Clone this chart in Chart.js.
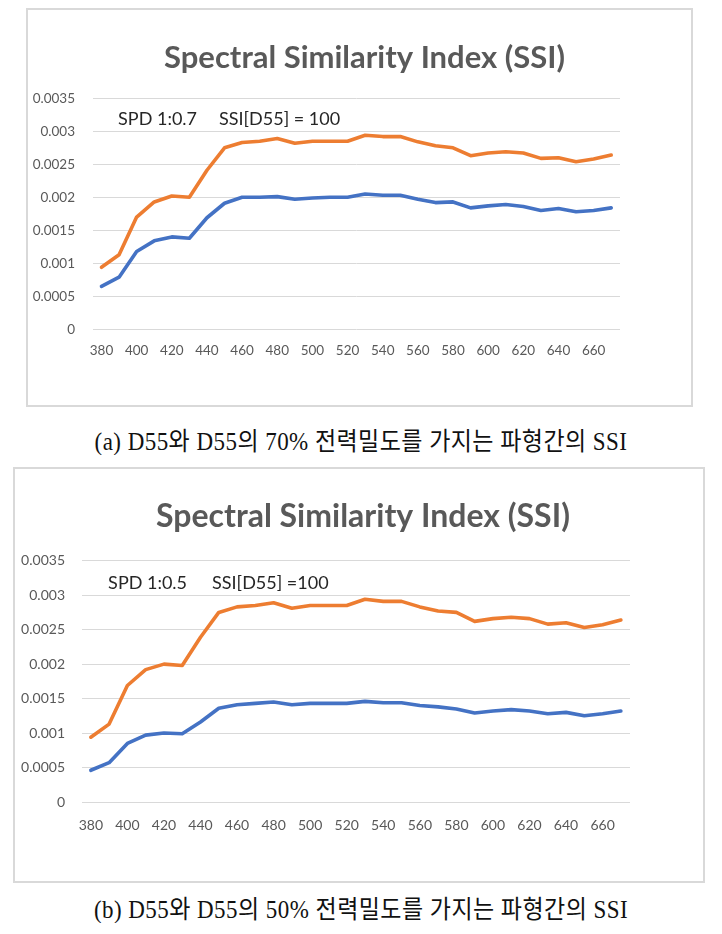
<!DOCTYPE html>
<html>
<head>
<meta charset="utf-8">
<script src="https://cdn.jsdelivr.net/npm/chart.js@4.4.1/dist/chart.umd.min.js"></script>
<style>
  html, body { margin: 0; padding: 0; background: #ffffff; }
  body { width: 722px; height: 934px; position: relative; overflow: hidden; }
  .box { position: absolute; border: 2px solid #d9d9d9; box-sizing: border-box; background: #fff; }
  .cv { position: absolute; }
  .caption { position: absolute; left: 0; width: 722px; text-align: center;
             font-family: "Liberation Serif", "Noto Sans CJK KR", serif; font-size: 23px; color: #111;
             letter-spacing: 0.45px; line-height: 26px; white-space: pre; transform: scaleY(1.08); }
</style>
</head>
<body>
<div class="box" style="left:26px; top:8px; width:667px; height:399px;"></div>
<div class="cv" style="left:28px; top:10px; width:663px; height:395px;"><canvas id="chartA"></canvas></div>
<div class="caption" id="capA" style="top:429px;">(a) D55와 D55의 70% 전력밀도를 가지는 파형간의 SSI</div>

<div class="box" style="left:13px; top:467px; width:692px; height:416px;"></div>
<div class="cv" style="left:15px; top:469px; width:688px; height:412px;"><canvas id="chartB"></canvas></div>
<div class="caption" id="capB" style="top:897px;">(b) D55와 D55의 50% 전력밀도를 가지는 파형간의 SSI</div>

<script>
// ---- data ----
const categories = [380, 390, 400, 410, 420, 430, 440, 450, 460, 470, 480, 490, 500, 510, 520,
                    530, 540, 550, 560, 570, 580, 590, 600, 610, 620, 630, 640, 650, 660, 670];

const blueA = [0.00065, 0.00079, 0.00118, 0.00134, 0.00140, 0.00138, 0.00169, 0.00191, 0.00200, 0.00200,
               0.00201, 0.00197, 0.00199, 0.00200, 0.00200, 0.00205, 0.00203, 0.00203, 0.00197, 0.00192,
               0.00193, 0.00184, 0.00187, 0.00189, 0.00186, 0.00180, 0.00183, 0.00178, 0.00180, 0.00184];
const orangeA = [0.00094, 0.00113, 0.00170, 0.00193, 0.00202, 0.00200, 0.00241, 0.00275, 0.00283, 0.00285,
                 0.00289, 0.00282, 0.00285, 0.00285, 0.00285, 0.00294, 0.00292, 0.00292, 0.00284, 0.00278,
                 0.00275, 0.00263, 0.00267, 0.00269, 0.00267, 0.00259, 0.00260, 0.00254, 0.00258, 0.00264];

const blueB = [0.00046, 0.00057, 0.00085, 0.00097, 0.00100, 0.00099, 0.00116, 0.00136, 0.00141, 0.00143,
               0.00145, 0.00141, 0.00143, 0.00143, 0.00143, 0.00146, 0.00144, 0.00144, 0.00140, 0.00138,
               0.00135, 0.00129, 0.00132, 0.00134, 0.00132, 0.00128, 0.00130, 0.00125, 0.00128, 0.00132];
const orangeB = [0.00094, 0.00113, 0.00169, 0.00192, 0.00200, 0.00198, 0.00239, 0.00275, 0.00283, 0.00285,
                 0.00289, 0.00281, 0.00285, 0.00285, 0.00285, 0.00294, 0.00291, 0.00291, 0.00283, 0.00277,
                 0.00275, 0.00262, 0.00266, 0.00268, 0.00266, 0.00258, 0.00260, 0.00253, 0.00257, 0.00264];

const yTickValues = [0, 0.0005, 0.001, 0.0015, 0.002, 0.0025, 0.003, 0.0035];
const yTickLabels = ['0', '0.0005', '0.001', '0.0015', '0.002', '0.0025', '0.003', '0.0035'];
const xTickLabels = ['380', '', '400', '', '420', '', '440', '', '460', '', '480', '', '500', '', '520',
                     '', '540', '', '560', '', '580', '', '600', '', '620', '', '640', '', '660', ''];

const chartTitle = 'Spectral Similarity Index (SSI)';
const noteA = ['SPD 1:0.7', 'SSI[D55] = 100'];
const noteB = ['SPD 1:0.5', 'SSI[D55] =100'];

// ---- chart builder ----
const BLUE = '#4472C4', ORANGE = '#ED7D31';
const TICK_COLOR = '#595959', GRID = '#d9d9d9';
const FONT = 'Lato, "Open Sans", sans-serif';

const notePlugin = {
  id: 'note',
  afterDatasetsDraw(chart, args, opts) {
    const ctx = chart.ctx;
    const x = chart.scales.x.getPixelForValue(1) - 1;
    const y = chart.scales.y.getPixelForValue(0.00318);
    ctx.save();
    ctx.font = '18px ' + FONT;
    ctx.fillStyle = '#262626';
    ctx.textBaseline = 'middle';
    ctx.textAlign = 'left';
    ctx.fillText(opts.parts[0], x, y);
    const w = ctx.measureText(opts.parts[0]).width;
    ctx.fillText(opts.parts[1], x + w + opts.gap, y);
    ctx.restore();
  }
};

function makeChart(id, blue, orange, g) {
  return new Chart(document.getElementById(id), {
    type: 'line',
    data: {
      labels: categories,
      datasets: [
        { label: 'SSI', data: blue, borderColor: BLUE, backgroundColor: BLUE,
          borderWidth: 3.6, pointRadius: 0, tension: 0, borderJoinStyle: 'round', borderCapStyle: 'round' },
        { label: 'SSI D55', data: orange, borderColor: ORANGE, backgroundColor: ORANGE,
          borderWidth: 3.6, pointRadius: 0, tension: 0, borderJoinStyle: 'round', borderCapStyle: 'round' }
      ]
    },
    plugins: [notePlugin],
    options: {
      responsive: true,
      maintainAspectRatio: false,
      animation: false,
      events: [],
      layout: { padding: { left: 0, right: -g.shift, top: 0, bottom: 0 } },
      plugins: {
        legend: { display: false },
        tooltip: { enabled: false },
        title: {
          display: true, text: chartTitle, color: '#595959',
          font: { family: FONT, size: g.titleSize, weight: 'bold', lineHeight: 1.2 },
          padding: { top: g.titleTop, bottom: g.titleBottom }
        },
        note: { parts: g.note, gap: g.gap }
      },
      scales: {
        x: {
          type: 'category',
          offset: true,
          grid: { display: false, drawTicks: false },
          border: { display: false },
          afterFit(scale) { scale.height = g.xHeight; },
          ticks: {
            autoSkip: false, maxRotation: 0, minRotation: 0,
            color: TICK_COLOR, padding: g.xPad,
            font: { family: FONT, size: g.tickSize },
            callback: (v, i) => xTickLabels[i]
          }
        },
        y: {
          min: 0, max: 0.0035,
          grid: { color: GRID, lineWidth: 1, drawTicks: false },
          border: { display: false },
          afterFit(scale) { scale.width = g.yWidth; },
          afterBuildTicks(scale) { scale.ticks = yTickValues.map(v => ({ value: v })); },
          ticks: {
            color: TICK_COLOR, padding: g.yPad,
            font: { family: FONT, size: g.tickSize },
            callback: (v, i) => yTickLabels[i]
          }
        },
        yRight: {
          type: 'linear', position: 'right', min: 0, max: 1,
          grid: { display: false, drawTicks: false },
          border: { display: false },
          ticks: { display: false },
          afterFit(scale) { scale.width = g.padRight + g.shift; }
        }
      }
    }
  });
}

makeChart('chartA', blueA, orangeA, {
  shift: 10, padRight: 71, titleSize: 31, titleTop: 29.4, titleBottom: 21.7, yWidth: 64.7, yPad: 17.7,
  xHeight: 75.7, xPad: 13, tickSize: 13.5, note: noteA, gap: 22
});
makeChart('chartB', blueB, orangeB, {
  shift: 8, padRight: 73, titleSize: 32, titleTop: 28.8, titleBottom: 24.5, yWidth: 66.7, yPad: 16.7,
  xHeight: 79, xPad: 15, tickSize: 14, note: noteB, gap: 25
});
</script>
</body>
</html>
